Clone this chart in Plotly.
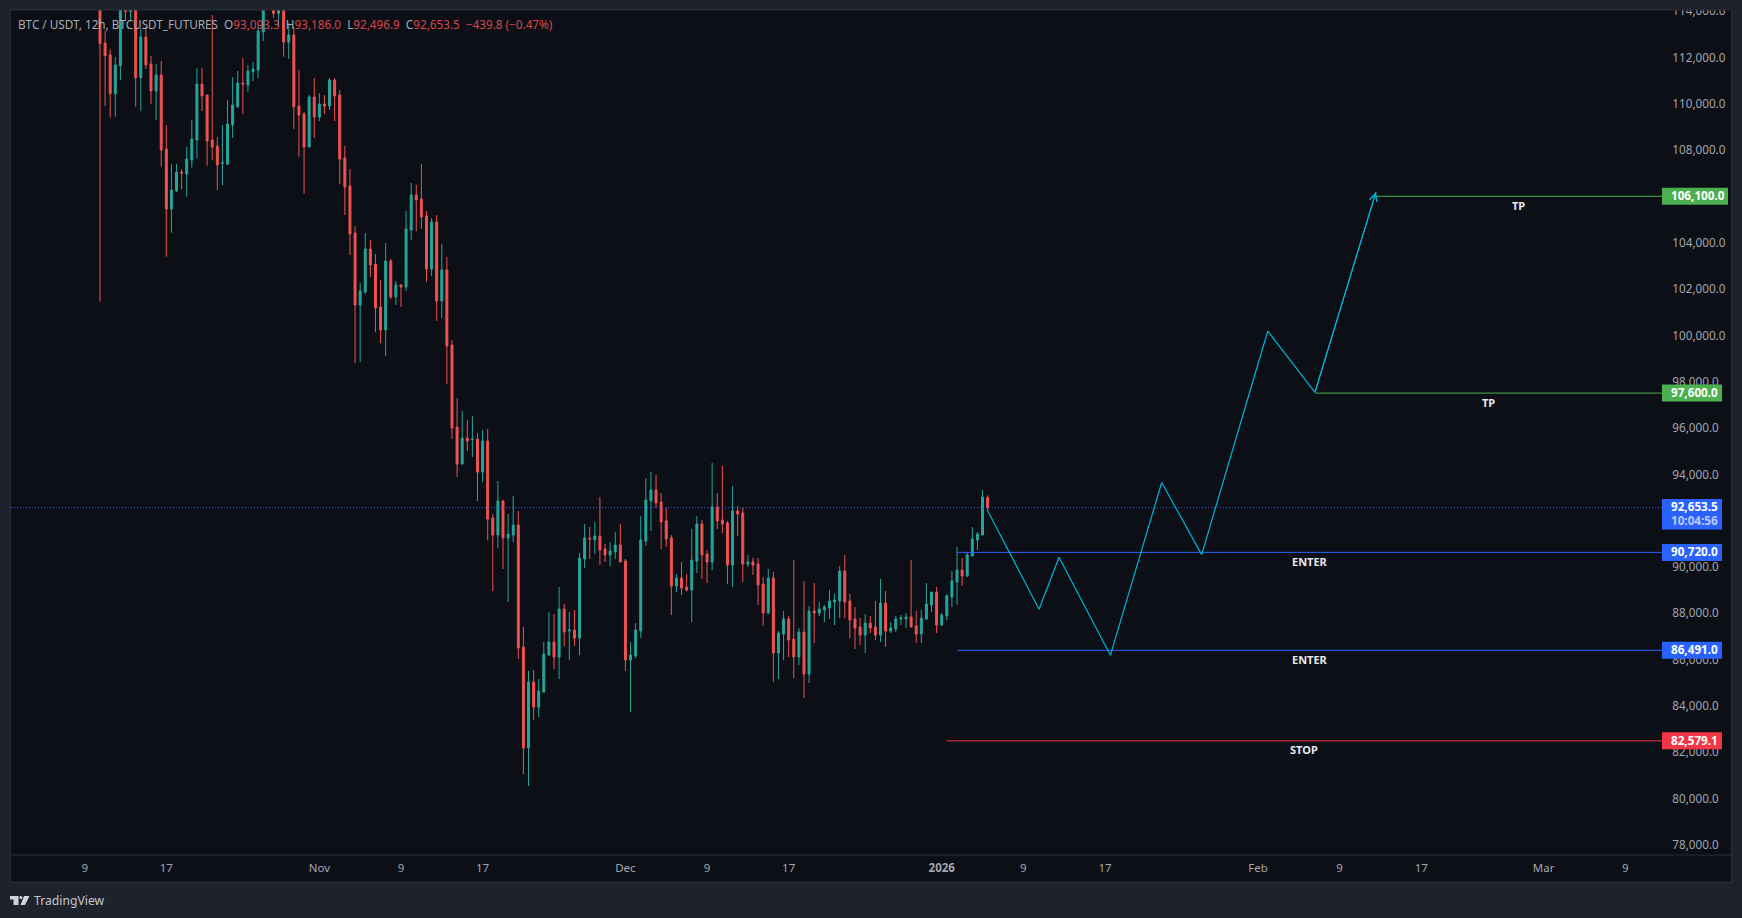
import pandas as pd
import plotly.graph_objects as go

# Candles, 12h bars starting 2025-10-10 12:00
first_bar = "2025-10-10 12:00"

opens = [
    121500, 112719, 112201, 110531, 111740, 115400, 114073, 115000, 111222, 112979,
    111812, 110646, 111337, 108140, 105548, 106326, 107147, 107060, 107665, 108529,
    110948, 110473, 108529, 108270, 107521, 107492, 109177, 109969, 110991, 110905,
    111467, 111553, 113195, 114800, 115200, 114001, 115000, 112763, 113065, 109998,
    109652, 108227, 110387, 109523, 110084, 109998, 111121, 110473, 107751, 106542,
    104513, 101403, 101965, 103822, 103174, 101317, 100323, 103304, 101749, 102267,
    102181, 104643, 106155, 105982, 105248, 102958, 104988, 101576, 102915, 99675,
    96133, 94534, 95657, 95600, 95614, 94188, 95528, 92204, 91470, 92939,
    91340, 91470, 91902, 86632, 82268, 85120, 84040, 84688, 86286, 86848,
    86200, 88273, 87323, 87366, 87020, 90433, 91340, 91254, 91427, 90865,
    90606, 90736, 91038, 90347, 86070, 86243, 87323, 91211, 92939, 93414,
    92896, 92075, 91340, 89267, 89612, 89224, 89094, 90347, 91945, 90649,
    90304, 92680, 92118, 91988, 90174, 92507, 92420, 90217, 90304, 90217,
    89353, 88100, 89612, 86372, 87193, 87841, 86977, 86200, 87280, 85465,
    88187, 88100, 88230, 88316, 88576, 88619, 89915, 88619, 87841, 87496,
    87150, 87668, 87496, 87150, 88532, 87323, 87409, 87841, 87841, 87928,
    87539, 87193, 87841, 88446, 89007, 87582, 87971, 88792, 89440, 89958,
    89699, 90563, 91254, 91470, 93093.3,
]
highs = [
    122500, 113252, 112446, 112115, 116000, 116000, 115500, 115500, 113353, 113425,
    112158, 111812, 111942, 109177, 107492, 107492, 107276, 108227, 109393, 111639,
    111639, 110473, 113929, 108659, 109177, 110257, 111251, 111510, 112071, 111769,
    111899, 113500, 115200, 115800, 115500, 115400, 115300, 113569, 113425, 111553,
    109739, 110473, 111207, 110559, 110473, 111207, 111207, 110689, 108270, 107276,
    104816, 102353, 104513, 104211, 103606, 102483, 104081, 103390, 102440, 102310,
    105464, 106673, 106587, 107494, 105464, 105161, 105291, 104038, 103477, 99891,
    97385, 96824, 96435, 96608, 95873, 95999, 96046, 92377, 93803, 92982,
    92377, 93155, 92507, 87496, 85595, 85638, 85249, 86848, 88144, 88057,
    89224, 88489, 88144, 88230, 90692, 91945, 91815, 92032, 93112, 91081,
    91168, 91600, 91945, 90433, 86848, 87669, 92291, 93932, 94192, 94062,
    93284, 92636, 91470, 89785, 90304, 89785, 91729, 92291, 92118, 90822,
    94580, 93284, 94451, 92075, 93587, 92723, 92636, 90606, 90477, 90477,
    89656, 90001, 89872, 87323, 88187, 87971, 90390, 87452, 89483, 88403,
    89396, 88576, 88446, 89094, 88921, 90131, 90606, 88921, 88360, 87885,
    88057, 87971, 88619, 89569, 89051, 87712, 87971, 88014, 88100, 90390,
    88187, 88230, 89396, 89007, 89224, 88100, 88921, 89915, 90952, 90477,
    90736, 91816, 91600, 93414, 93186.0,
]
lows = [
    101545, 109998, 109494, 109537, 111121, 113713, 113713, 109969, 109796, 111596,
    110084, 109393, 107377, 103489, 104526, 106283, 106412, 106081, 107334, 107737,
    109782, 107420, 107665, 106369, 106585, 107449, 108615, 109912, 109652, 110603,
    111078, 111207, 112806, 114400, 113799, 113425, 112129, 112028, 109004, 107809,
    106211, 108227, 108615, 109350, 109652, 109825, 109350, 106628, 105289, 103561,
    98897, 98941, 101878, 102613, 100237, 99761, 99200, 101662, 101403, 101317,
    102008, 104211, 104600, 104686, 102397, 102656, 100712, 100841, 97990, 95614,
    93973, 94534, 95096, 94837, 92936, 93757, 91255, 89051, 90908, 90001,
    88576, 91168, 86113, 81145, 80627, 83478, 83608, 84644, 86243, 85681,
    85249, 86675, 86070, 86675, 86286, 90044, 90433, 90649, 90174, 90304,
    90131, 90433, 90304, 85595, 83824, 86156, 87021, 90995, 91643, 92636,
    90865, 90952, 88014, 89008, 88878, 89051, 87712, 89828, 89569, 89396,
    89958, 91729, 91556, 89353, 89224, 91427, 89440, 90088, 89742, 88446,
    87539, 88057, 85120, 85249, 86070, 86200, 85293, 85854, 84429, 85076,
    86804, 87971, 87712, 87841, 87582, 87885, 87885, 87021, 86545, 86718,
    86372, 87236, 86934, 86848, 86632, 87236, 87280, 87582, 87452, 87496,
    86804, 86804, 87798, 88144, 87236, 87539, 87798, 88360, 88446, 89267,
    89656, 90563, 90822, 91470, 92496.9,
]
closes = [
    112691, 112172, 110531, 111769, 115600, 114073, 115000, 111222, 112979, 111769,
    110646, 111337, 108097, 105548, 106369, 107147, 107104, 107708, 108572, 110948,
    110430, 108486, 108227, 107449, 107550, 109220, 110041, 110991, 110948, 111510,
    111596, 113238, 114800, 115300, 114001, 115000, 112763, 113065, 109969, 109609,
    108227, 110387, 109523, 110084, 109998, 111121, 110430, 107708, 106499, 104468,
    101403, 102008, 103822, 103131, 101273, 100323, 103304, 101749, 102267, 102181,
    104686, 106155, 105939, 105205, 102958, 104988, 101576, 102915, 99632, 96089,
    94534, 95657, 95528, 95614, 94188, 95528, 92158, 91470, 92939, 91340,
    91513, 91902, 86588, 82268, 85120, 84040, 84731, 86329, 86848, 86200,
    88273, 87280, 87366, 87020, 90476, 91340, 91297, 91427, 90822, 90606,
    90779, 91038, 90304, 86070, 86286, 87366, 91254, 92982, 93414, 92852,
    92032, 91297, 89267, 89612, 89180, 89094, 90390, 91945, 90606, 90304,
    92680, 92075, 91945, 90174, 92507, 92377, 90217, 90304, 90174, 89310,
    88100, 89612, 86372, 87236, 87841, 86934, 86200, 87280, 85465, 88187,
    88100, 88273, 88360, 88619, 88662, 89915, 88576, 87798, 87452, 87150,
    87668, 87452, 87150, 88532, 87323, 87452, 87841, 87884, 87928, 87496,
    87193, 87884, 88489, 89007, 87582, 88014, 88835, 89483, 89958, 89699,
    90606, 91297, 91513, 93112, 92653.5,
]

# Projected path drawn by hand on the chart
path_dates = [
    "2026-01-05 12:00", "2026-01-10 13:00", "2026-01-12 12:00", "2026-01-17 12:45",
    "2026-01-22 13:30", "2026-01-26 11:30", "2026-02-01 23:00", "2026-02-06 14:00",
    "2026-02-12 13:30",
]
path_prices = [92520, 88262, 90508, 86275, 93738, 90624, 100281, 97634, 106285]

# Horizontal levels
level_names = ["TP", "TP", "ENTER", "ENTER", "STOP"]
level_prices = [106100.0, 97600.0, 90720.0, 86491.0, 82579.1]
level_labels = ["106,100.0", "97,600.0", "90,720.0", "86,491.0", "82,579.1"]
level_starts = ["2026-02-12 13:30", "2026-02-06 14:00", "2026-01-02 12:00", "2026-01-02 12:00", "2026-01-01 12:00"]
level_colors = ["#4caf50", "#4caf50", "#2962ff", "#2962ff", "#f23645"]

last_price = 92653.5
last_label = "92,653.5"
countdown = "10:04:56"

tick_dates = [
    "2025-10-09", "2025-10-17", "2025-11-01", "2025-11-09", "2025-11-17", "2025-12-01",
    "2025-12-09", "2025-12-17", "2026-01-01", "2026-01-09", "2026-01-17", "2026-02-01",
    "2026-02-09", "2026-02-17", "2026-03-01", "2026-03-09",
]
tick_labels = ["9", "17", "Nov", "9", "17", "Dec", "9", "17", "<b>2026</b>", "9", "17", "Feb", "9", "17", "Mar", "9"]

# Colours
BG = "#0c0f16"
FRAME = "#1e222d"
EDGE = "#2a2e39"
UP = "#26a69a"
DOWN = "#ef5350"
PATH = "#00b4d8"
TEXT = "#a3a6af"
FONT = "Noto Sans"

# Page geometry
W, H = 1742, 918
PLOT_L, PLOT_R, PLOT_T, PLOT_B = 11, 1662, 10, 855
X_START = pd.Timestamp("2025-10-01 18:40")
X_END = pd.Timestamp("2026-03-12 14:20")
Y_RANGE = [77650, 114145]


def fx(px):
    return (px - PLOT_L) / (PLOT_R - PLOT_L)


def fy(py):
    return (PLOT_B - py) / (PLOT_B - PLOT_T)


def rect(x0, y0, x1, y1, color, line=None):
    return dict(type="rect", xref="paper", yref="paper", x0=fx(x0), x1=fx(x1), y0=fy(y0), y1=fy(y1),
                fillcolor=color, line=dict(width=0 if line is None else 1, color=line), layer="above")


bar_dates = pd.date_range(first_bar, periods=len(closes), freq="12h")

fig = go.Figure()

# current price line, under the candles
fig.add_trace(go.Scatter(
    x=[X_START, X_END], y=[last_price, last_price], mode="lines",
    line=dict(color="#2962ff", width=1, dash="1px,2px"), hoverinfo="skip",
))

fig.add_trace(go.Candlestick(
    x=bar_dates, open=opens, high=highs, low=lows, close=closes,
    increasing=dict(line=dict(color=UP, width=1), fillcolor=UP),
    decreasing=dict(line=dict(color=DOWN, width=1), fillcolor=DOWN),
    whiskerwidth=0,
))

for start, price, color in zip(level_starts, level_prices, level_colors):
    fig.add_trace(go.Scatter(
        x=[start, X_END], y=[price, price], mode="lines",
        line=dict(color=color, width=1), hoverinfo="skip",
    ))

fig.add_trace(go.Scatter(
    x=path_dates, y=path_prices, mode="lines",
    line=dict(color=PATH, width=1.2), hoverinfo="skip",
))

shapes = [
    # frame around the chart
    rect(0, 0, W, 10, FRAME),
    rect(0, 0, 10, H, FRAME),
    rect(1732, 0, W, H, FRAME),
    rect(0, 882, W, H, FRAME),
    dict(type="rect", xref="paper", yref="paper", x0=fx(10.5), x1=fx(1731.5), y0=fy(10), y1=fy(882),
         line=dict(color=EDGE, width=1), layer="above"),
    dict(type="line", xref="paper", yref="paper", x0=fx(11), x1=fx(1731), y0=fy(855), y1=fy(855),
         line=dict(color=EDGE, width=1), layer="above"),
    # TradingView mark
    dict(type="path", xref="paper", yref="paper", fillcolor="#d1d4dc", line=dict(width=0), layer="above",
         path="M{},{} L{},{} L{},{} L{},{} L{},{} L{},{} Z".format(
             fx(10), fy(896), fx(18.5), fy(896), fx(18.5), fy(905), fx(13.5), fy(905),
             fx(13.5), fy(899.5), fx(10), fy(899.5))),
    dict(type="circle", xref="paper", yref="paper", fillcolor="#d1d4dc", line=dict(width=0), layer="above",
         x0=fx(19.4), x1=fx(22.4), y0=fy(896), y1=fy(899)),
    dict(type="path", xref="paper", yref="paper", fillcolor="#d1d4dc", line=dict(width=0), layer="above",
         path="M{},{} L{},{} L{},{} L{},{} Z".format(
             fx(24), fy(896), fx(29.5), fy(896), fx(25), fy(905), fx(20.5), fy(905))),
]

annotations = []

# axis tags on the right and notes under the lines
for name, price, label, start, color in zip(level_names, level_prices, level_labels, level_starts, level_colors):
    box = 66 if price >= 100000 else 60
    shapes.append(dict(type="rect", xref="paper", yref="y", ysizemode="pixel", yanchor=price,
                       x0=1, x1=1 + box / (PLOT_R - PLOT_L), y0=-8.5, y1=8.5,
                       fillcolor=color, line=dict(width=0), layer="above"))
    annotations.append(dict(xref="paper", yref="y", x=1, y=price, xshift=7, yshift=1, xanchor="left", yanchor="middle",
                            text="<b>%s</b>" % label, showarrow=False,
                            font=dict(family=FONT, size=11.7, color="#ffffff")))
    middle = pd.Timestamp(start) + (X_END - pd.Timestamp(start)) / 2
    annotations.append(dict(x=middle, y=price, yshift=-9, yanchor="middle", text="<b>%s</b>" % name,
                            showarrow=False, font=dict(family=FONT, size=11, color="#e6e8ee")))

shapes.append(dict(type="rect", xref="paper", yref="y", ysizemode="pixel", yanchor=last_price,
                   x0=1, x1=1 + 60 / (PLOT_R - PLOT_L), y0=-22, y1=8.5,
                   fillcolor="#2962ff", line=dict(width=0), layer="above"))
annotations.append(dict(xref="paper", yref="y", x=1, y=last_price, xshift=7, yshift=1.5, xanchor="left", yanchor="middle",
                        text="<b>%s</b>" % last_label, showarrow=False,
                        font=dict(family=FONT, size=11.7, color="#ffffff")))
annotations.append(dict(xref="paper", yref="y", x=1, y=last_price, xshift=7, yshift=-12.5, xanchor="left",
                        yanchor="middle", text="<b>%s</b>" % countdown, showarrow=False,
                        font=dict(family=FONT, size=11.7, color="#bcccff")))

# arrow head at the end of the path
annotations.append(dict(x=path_dates[-1], y=path_prices[-1], ax=path_dates[-2], ay=path_prices[-2],
                        xref="x", yref="y", axref="x", ayref="y", text="", showarrow=True,
                        arrowhead=5, arrowsize=1.5, arrowwidth=1, arrowcolor=PATH))

# header line
red = "#d9454a"
header = ("<span style='color:#a9acb5'>BTC / USDT, 12h, BTCUSDT_FUTURES&nbsp;&nbsp;O</span>"
          "<span style='color:%s'>93,093.3</span>"
          "<span style='color:#a9acb5'>&nbsp;&nbsp;H</span><span style='color:%s'>93,186.0</span>"
          "<span style='color:#a9acb5'>&nbsp;&nbsp;L</span><span style='color:%s'>92,496.9</span>"
          "<span style='color:#a9acb5'>&nbsp;&nbsp;C</span><span style='color:%s'>92,653.5&nbsp;&nbsp;−439.8 (−0.47%%)</span>"
          % (red, red, red, red))
annotations.append(dict(xref="paper", yref="paper", x=fx(15.5), y=fy(24), xanchor="left", yanchor="middle",
                        text=header, showarrow=False, align="left",
                        font=dict(family=FONT, size=11.72, color="#a9acb5")))

annotations.append(dict(xref="paper", yref="paper", x=fx(32), y=fy(900.5), xanchor="left", yanchor="middle",
                        text="TradingView", showarrow=False,
                        font=dict(family=FONT, size=12.2, color="#c4c7cf")))

fig.update_xaxes(
    type="date", range=[X_START, X_END], rangeslider_visible=False,
    tickmode="array", tickvals=tick_dates, ticktext=tick_labels,
    showgrid=False, zeroline=False, showline=False,
    ticks="outside", ticklen=2, tickcolor="rgba(0,0,0,0)",
    tickfont=dict(family=FONT, size=11.5, color=TEXT),
)
fig.update_yaxes(
    side="right", range=Y_RANGE, tick0=78000, dtick=2000, tickformat=",.1f",
    showgrid=False, zeroline=False, showline=False,
    ticks="outside", ticklen=7, tickcolor="rgba(0,0,0,0)", ticklabelshift=-2,
    tickfont=dict(family=FONT, size=11.7, color=TEXT),
)
fig.update_layout(
    width=W, height=H,
    margin=dict(l=PLOT_L, r=W - PLOT_R, t=PLOT_T, b=H - PLOT_B, autoexpand=False),
    paper_bgcolor=BG, plot_bgcolor=BG,
    showlegend=False, boxgap=0.45,
    shapes=shapes, annotations=annotations,
)

fig.write_html("out.html", config={"displayModeBar": False}, post_script="document.body.style.margin='0';")
